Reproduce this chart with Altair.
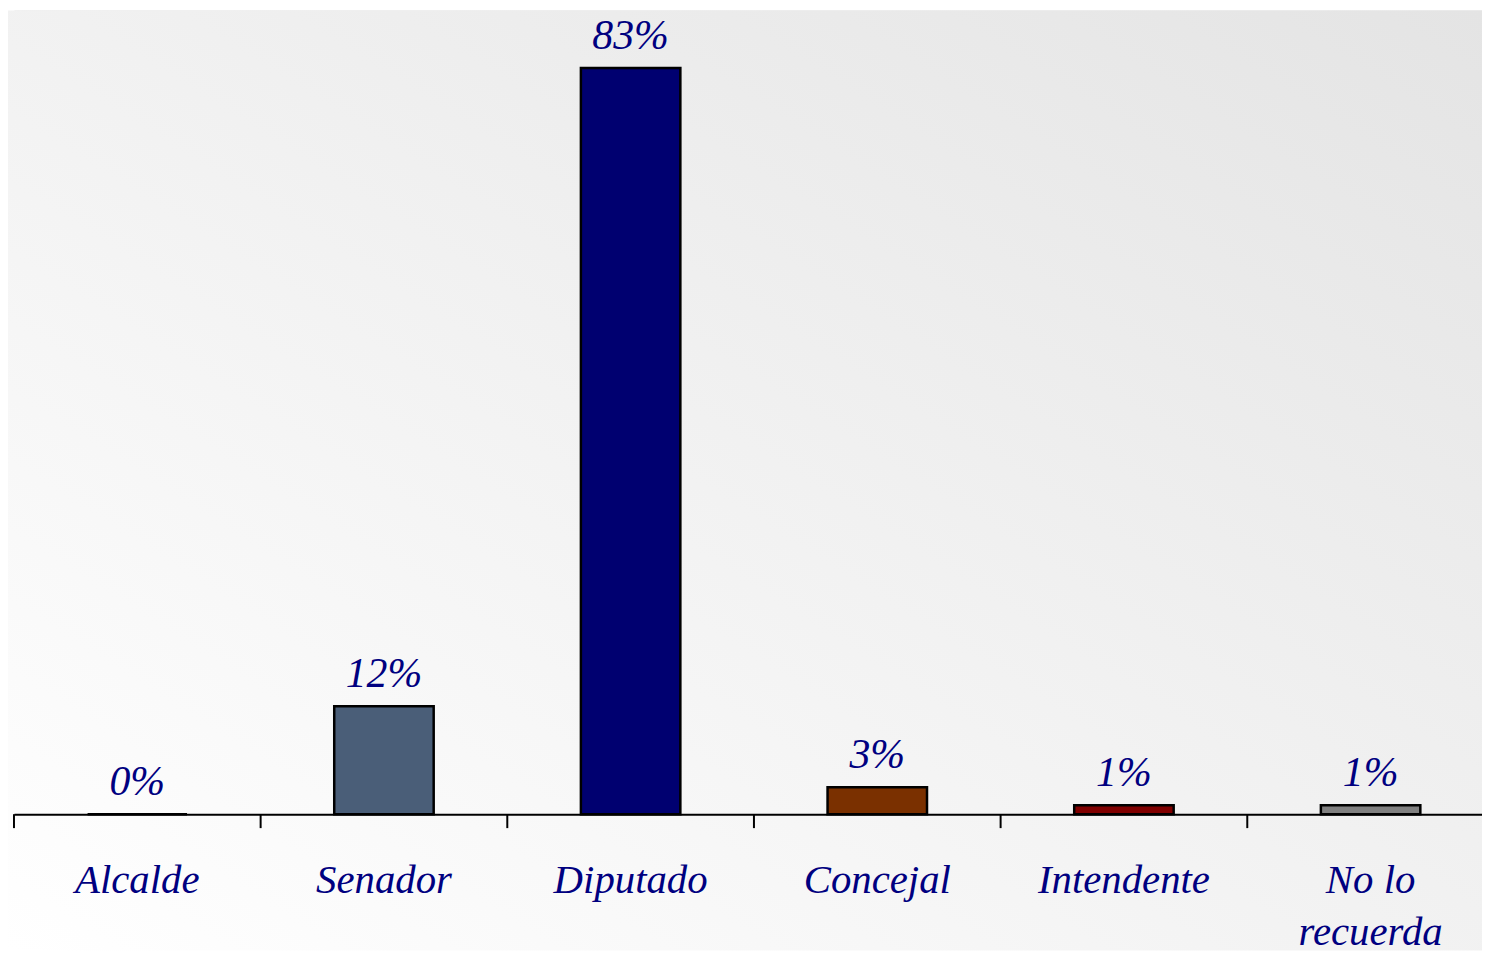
import altair as alt
import pandas as pd

categories = ["Alcalde", "Senador", "Diputado", "Concejal", "Intendente", "No lo recuerda"]
values = [0, 12, 83, 3, 1, 1]
colors = ["#4A5E78", "#4A5E78", "#000070", "#7A3000", "#800000", "#808080"]

df = pd.DataFrame({"cat": categories, "value": values, "color": colors})

FONT = "Liberation Serif"
NAVY = "#000080"
W, H = 1476, 808

xscale = alt.Scale(domain=categories, range=[0, 1488], paddingInner=0, paddingOuter=0)
yscale = alt.Scale(domain=[0, 89.4], nice=False, zero=True)

bg = alt.Chart(alt.Data(values=[{"a": 1}])).mark_rect(
    color=alt.Gradient(
        gradient="linear", x1=0, y1=1, x2=1, y2=0,
        stops=[alt.GradientStop(offset=0, color="#ffffff"),
               alt.GradientStop(offset=1, color="#e4e4e4")],
    )
).encode(
    x=alt.value(-6), x2=alt.value(W), y=alt.value(0), y2=alt.value(945)
)

base = alt.Chart(df)

bars = base.mark_bar(size=100, stroke="black", strokeWidth=2.5).encode(
    x=alt.X("cat:N", scale=xscale, sort=categories,
            axis=alt.Axis(title=None, ticks=False, domain=True, domainColor="black",
                          domainWidth=2, labelFont=FONT, labelFontSize=41,
                          labelFontStyle="italic", labelColor=NAVY, labelAngle=0,
                          labelBaseline="top", labelPadding=47, labelLineHeight=52,
                          labelLimit=0, labelOverlap=False, labelFlush=False, zindex=2,
                          labelExpr="datum.value == 'No lo recuerda' ? ['No lo', 'recuerda'] : datum.value")),
    y=alt.Y("value:Q", scale=yscale, axis=None),
    color=alt.Color("color:N", scale=None),
)

labels = base.transform_calculate(lbl="datum.value + '%'").mark_text(
    font=FONT, fontSize=42, fontStyle="italic", color=NAVY,
    baseline="alphabetic", dy=-19
).encode(
    x=alt.X("cat:N", scale=xscale, sort=categories),
    y=alt.Y("value:Q", scale=yscale),
    text="lbl:N",
)

ticks = base.mark_rule(color="black", strokeWidth=2).encode(
    x=alt.X("cat:N", scale=xscale, sort=categories, bandPosition=0),
    y=alt.value(H), y2=alt.value(H + 14),
)

chart = alt.layer(bg, bars, labels, ticks).properties(
    width=W, height=H,
    autosize=alt.AutoSizeParams(type="none"),
    padding={"left": 6, "top": 0, "right": 0, "bottom": 137},
).configure_view(stroke=None).configure(background="white")

chart.save("out.html", embed_options={"renderer": "svg", "actions": False})
